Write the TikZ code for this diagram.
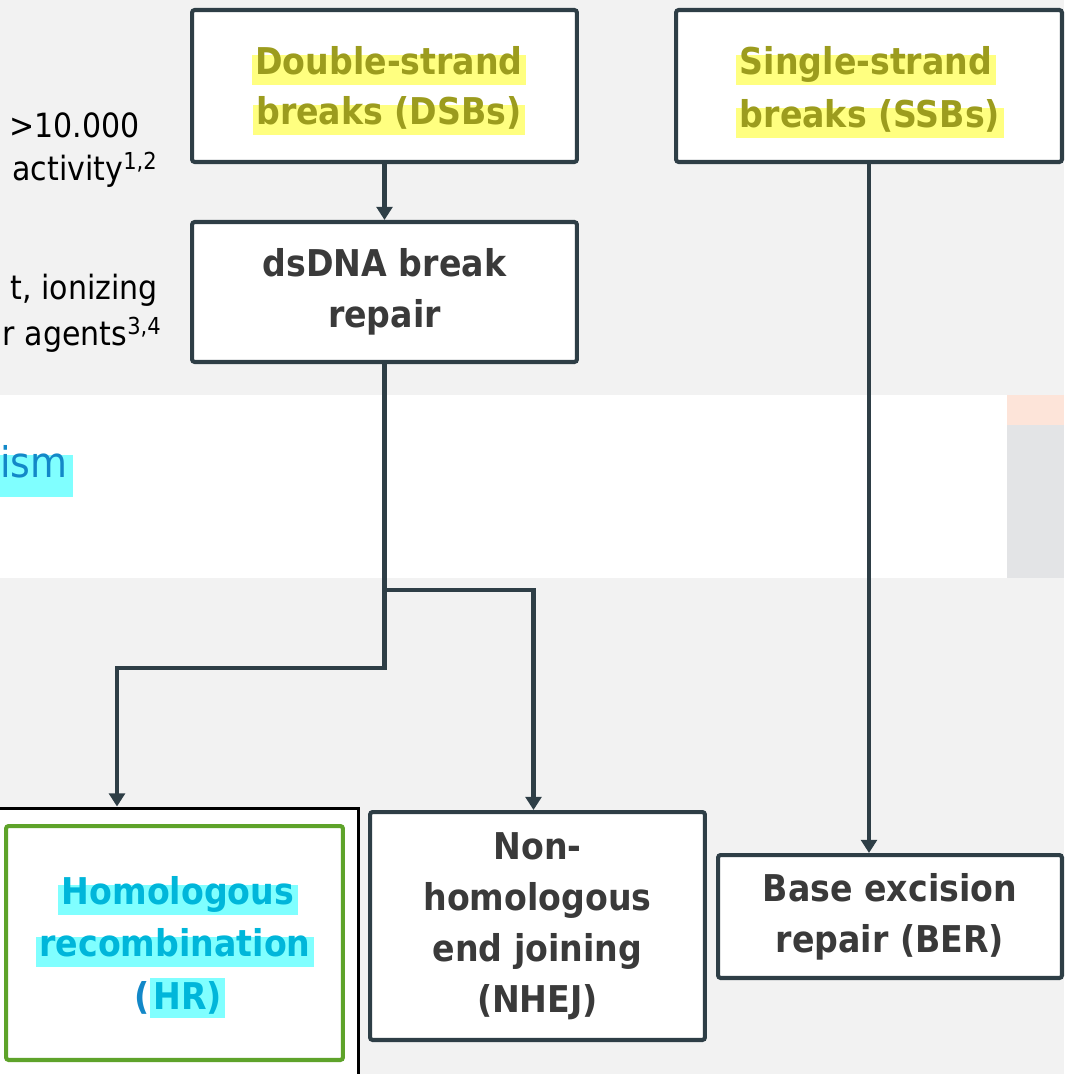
\documentclass[tikz,border=0pt]{standalone}
\usepackage{fontspec}
\setmainfont{DejaVu Sans}[FakeStretch=0.9]
\usetikzlibrary{arrows.meta}
\definecolor{pagebg}{HTML}{F2F2F2}
\definecolor{boxline}{HTML}{2E3E46}
\definecolor{darktext}{HTML}{3A3A3A}
\definecolor{olivetext}{HTML}{9C9C1E}
\definecolor{yellowhl}{HTML}{FFFF80}
\definecolor{cyanhl}{HTML}{80FFFF}
\definecolor{cyantext}{HTML}{00B6DA}
\definecolor{bluetext}{HTML}{1388C8}
\definecolor{hrgreen}{HTML}{5EA32A}
\definecolor{pinkstrip}{HTML}{FDE4D9}
\definecolor{sidegray}{HTML}{E3E4E6}
\tikzset{
  stepbox/.style={draw=boxline,line width=2.3pt,rounded corners=1.5pt,fill=white,align=center,
    text=darktext,font=\bfseries\fontsize{21}{29}\selectfont},
  hlline/.style={inner xsep=2pt,inner ysep=3.5pt,text height=0.8em,text depth=0.25em,
    font=\bfseries\fontsize{21}{29}\selectfont},
  sidetext/.style={anchor=east,inner sep=0pt,text=black,font=\fontsize{19}{25}\selectfont},
  link/.style={draw=boxline,line width=2.3pt},
  arrowlink/.style={link,-{Triangle[width=9pt,length=7.5pt]}}
}
\begin{document}
\begin{tikzpicture}[x=0.02cm,y=-0.02cm]
\useasboundingbox (0,0) rectangle (1064,1074);
\clip (0,0) rectangle (1064,1074);
\fill[pagebg] (0,0) rectangle (1064,1074);
\fill[white] (0,395) rectangle (1007,578);
\fill[pinkstrip] (1007,395) rectangle (1064,425);
\fill[sidegray] (1007,425) rectangle (1064,578);
\node[sidetext] (note1) at (140,125) {>10.000};
\node[sidetext] (note2) at (158,170) {activity\textsuperscript{1,2}};
\node[sidetext] (note3) at (158,290) {t, ionizing};
\node[sidetext] (note4) at (162,335) {r agents\textsuperscript{3,4}};
\fill[cyanhl] (0,455) rectangle (73,497);
\node[anchor=west,inner sep=0pt,text=bluetext,font=\fontsize{24}{30}\selectfont] (mech) at (0,462) {ism};
\node[stepbox,minimum width=7.7cm,minimum height=3.04cm] (dsb) at (384.5,86) {};
\node[hlline,fill=yellowhl,text=olivetext] (dsb1) at (389,70) {Double-strand};
\node[hlline,fill=yellowhl,text=olivetext] (dsb2) at (389,120) {breaks (DSBs)};
\node[stepbox,minimum width=7.72cm,minimum height=3.04cm] (ssb) at (869,86) {};
\node[hlline,fill=yellowhl,text=olivetext] (ssb1) at (866,70) {Single-strand};
\node[hlline,fill=yellowhl,text=olivetext] (ssb2) at (870,123) {breaks (SSBs)};
\node[stepbox,minimum width=7.7cm,minimum height=2.8cm] (dsdna) at (384.5,292) {dsDNA break\\repair};
\node[draw=black,line width=1.7pt,fill=white,minimum width=7.22cm,minimum height=5.64cm] (hrout) at (178.5,949) {};
\node[draw=hrgreen,line width=2.3pt,rounded corners=1.5pt,minimum width=6.74cm,minimum height=4.68cm] (hr) at (174.5,943) {};
\node[hlline,fill=cyanhl,text=cyantext] (hr1) at (178,900) {Homologous};
\node[hlline,fill=cyanhl,text=cyantext] (hr2) at (175,952) {recombination};
\node[hlline,text=cyantext] (hr3) at (180,1005) {\textcolor{bluetext}{(}{\fboxsep=2pt\colorbox{cyanhl}{HR)}}};
\node[stepbox,minimum width=6.7cm,minimum height=4.56cm] (nhej) at (537.5,926) {Non-\\homologous\\end joining\\(NHEJ)};
\node[stepbox,minimum width=6.88cm,minimum height=2.46cm] (ber) at (890,916.5) {Base excision\\repair (BER)};
\path (dsdna.south) ++(0,226) coordinate (fork);
\coordinate (hrbend) at (117,668);
\draw[arrowlink] (dsb.south) -- (dsdna.north);
\draw[link] (dsdna.south) -- (fork);
\draw[arrowlink] (fork) -| ([xshift=-0.08cm]nhej.north);
\draw[arrowlink] (fork) |- (hrbend) -- (hrbend |- hrout.north);
\draw[arrowlink] (ssb.south) -- (ssb.south |- ber.north);
\end{tikzpicture}
\end{document}
